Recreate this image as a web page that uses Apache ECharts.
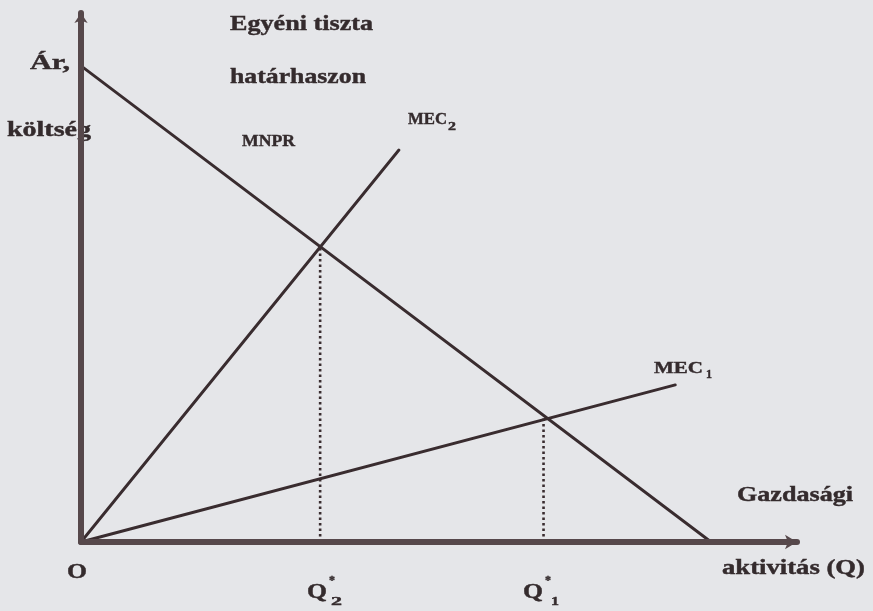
<!DOCTYPE html>
<html>
<head>
<meta charset="utf-8">
<script src="https://cdn.jsdelivr.net/npm/echarts@6/dist/echarts.min.js"></script>
<style>
html,body{margin:0;padding:0;background:#e5e6e9;}
#chart{width:873px;height:611px;}
</style>
</head>
<body>
<div id="chart"></div>
<script>
// ---- data (axis units 0..100) ----
const mnprLine = [[0, 90], [88, 0]];          // Egyéni tiszta határhaszon (MNPR)
const mec2Line = [[0, 0], [44.4, 74.1]];      // MEC2
const mec1Line = [[0, 0], [83.0, 29.7]];      // MEC1
const q2Drop = [[33.4, 0], [33.4, 55.8]];     // Q*2 dotted
const q1Drop = [[64.6, 0], [64.6, 23.4]];     // Q*1 dotted
const axisTitles = ['Ár,', 'költség', 'Gazdasági', 'aktivitás (Q)', 'O'];
const curveTitles = ['Egyéni tiszta', 'határhaszon', 'MNPR', 'MEC', '2', 'MEC', '1'];
const qTitles = ['Q', '*', '2', 'Q', '*', '1'];

const FAM = '"Liberation Serif", "Times New Roman", serif';
const TXT = '#342b2d';
const LINE = '#392c2f';
const AXIS = '#56484b';

const mctx = document.createElement('canvas').getContext('2d');
function natural(text, size, weight) {
  mctx.font = weight + ' ' + size + 'px ' + FAM;
  return mctx.measureText(text).width;
}
function lab(text, left, cy, size, width, weight, z) {
  weight = weight || 'bold';
  const sx = width ? width / natural(text, size, weight) : 1;
  return {
    type: 'text', x: left, y: cy, scaleX: sx, z: z == null ? 10 : z,
    style: {
      text: text, fill: TXT, stroke: TXT, lineWidth: 0.4,
      font: weight + ' ' + size + 'px ' + FAM,
      align: 'left', verticalAlign: 'middle',
      textAlign: 'left', textVerticalAlign: 'middle'
    }
  };
}

const chart = echarts.init(document.getElementById('chart'));
function lineSeries(data, dotted) {
  return {
    type: 'line', data: data, showSymbol: false, silent: true,
    animation: false, z: dotted ? 3 : 4,
    lineStyle: dotted
      ? { color: LINE, width: 2.6, type: [2.5, 3] }
      : { color: LINE, width: 2.9, cap: 'round' }
  };
}

chart.setOption({
  backgroundColor: '#e5e6e9',
  animation: false,
  grid: { left: 81, right: 76, top: 13, bottom: 69, containLabel: false },
  xAxis: {
    type: 'value', min: 0, max: 100, zlevel: 1,
    axisLabel: { show: false }, axisTick: { show: false }, splitLine: { show: false },
    axisLine: { show: true, symbol: ['none', 'arrow'], symbolSize: [11, 12],
      lineStyle: { color: AXIS, width: 6 } }
  },
  yAxis: {
    type: 'value', min: 0, max: 100, zlevel: 1,
    axisLabel: { show: false }, axisTick: { show: false }, splitLine: { show: false },
    axisLine: { show: true, symbol: ['none', 'arrow'], symbolSize: [10, 10],
      lineStyle: { color: AXIS, width: 6 } }
  },
  series: [
    lineSeries(mnprLine), lineSeries(mec2Line), lineSeries(mec1Line),
    lineSeries(q2Drop, true), lineSeries(q1Drop, true)
  ],
  graphic: { elements: [
    lab(curveTitles[0], 230, 25, 21, 143),
    lab(curveTitles[1], 230, 78, 21, 136),
    lab(curveTitles[2], 242, 142, 16, 53),
    lab(curveTitles[3], 408, 120, 16, 39),
    lab(curveTitles[4], 448, 127, 12, 8),
    lab(curveTitles[5], 654, 369, 16, 49),
    lab(curveTitles[6], 706, 375, 12, 6),
    lab(axisTitles[0], 30, 64, 20, 40),
    lab(axisTitles[1], 7, 131, 20, 84, 'bold', 0),
    lab(axisTitles[2], 737, 496, 20, 116),
    lab(axisTitles[3], 722, 569, 20, 143),
    lab(axisTitles[4], 67, 573, 21, 20),
    lab(qTitles[0], 307, 593, 21, 20),
    lab(qTitles[1], 329, 581, 12, 6),
    lab(qTitles[2], 331, 602, 12, 11),
    lab(qTitles[3], 523, 593, 21, 20),
    lab(qTitles[4], 545, 581, 12, 6),
    lab(qTitles[5], 551, 602, 12, 8)
  ] }
});
</script>
</body>
</html>
